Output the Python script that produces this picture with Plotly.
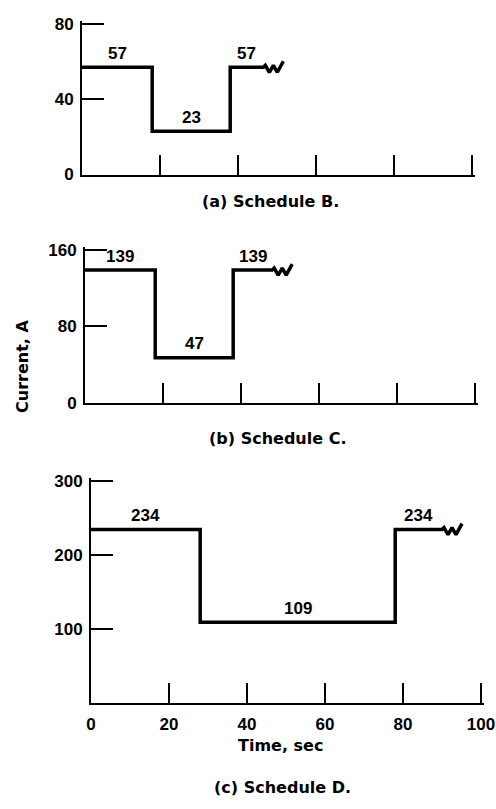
import plotly.graph_objects as go

# ---- data -------------------------------------------------------------
time_ticks = [0, 20, 40, 60, 80, 100]

sched_b_times = [0, 18, 38]
sched_b_amps = [57, 23, 57]
sched_b_end = 46.5

sched_c_times = [0, 18, 38]
sched_c_amps = [139, 47, 139]
sched_c_end = 48

sched_d_times = [0, 28, 78]
sched_d_amps = [234, 109, 234]
sched_d_end = 90

b_ticks = [0, 40, 80]
c_ticks = [0, 80, 160]
d_ticks = [100, 200, 300]

captions = ["(a) Schedule B.", "(b) Schedule C.", "(c) Schedule D."]

# ---- page geometry (pixels) -------------------------------------------
W, H = 496, 809
NUM_FONT = dict(family="Liberation Sans, Arial, sans-serif",
                size=17, color="black", weight="bold")
TXT_FONT = dict(family="DejaVu Sans, sans-serif", size=16, color="black",
                weight="bold")
PAD = 3  # px of slack so the end ticks are drawn

# plot boxes: (x0, x1, y_bottom, y_top) in page pixels for the 0..max span
boxes = [
    (82, 472, 174.5, 24),
    (85, 475, 402.7, 250),
    (91, 481, 703.0, 480.7),
]
caption_pos = [(270, 202), (277, 438), (282, 787)]

# break symbol drawn after the last segment: (dx, dy) in pixels, dy upward
BREAK_ZIG = [(2, 2), (6, -5), (10, 2), (14, -5), (20, 6)]

panels = [
    dict(times=sched_b_times, amps=sched_b_amps, end=sched_b_end, yticks=b_ticks),
    dict(times=sched_c_times, amps=sched_c_amps, end=sched_c_end, yticks=c_ticks),
    dict(times=sched_d_times, amps=sched_d_amps, end=sched_d_end, yticks=d_ticks),
]

fig = go.Figure()
annotations = []


def paper_text(text, px, py, angle=0):
    return dict(
        x=px / W, y=1 - py / H, xref="paper", yref="paper",
        xanchor="center", yanchor="middle", textangle=angle,
        text=text, showarrow=False, font=TXT_FONT,
    )


for i, (p, box) in enumerate(zip(panels, boxes)):
    n = "" if i == 0 else str(i + 1)
    x0, x1, yb, yt = box
    ymax = p["yticks"][-1]
    xs_per_px = 100 / (x1 - x0)
    ys_per_px = ymax / (yb - yt)

    # stepped current profile
    xs, ys = [], []
    times, amps = p["times"], p["amps"]
    for k, (t, a) in enumerate(zip(times, amps)):
        t_next = times[k + 1] if k + 1 < len(times) else p["end"]
        xs += [t, t_next]
        ys += [a, a]

    # zig-zag showing the profile continues
    last = amps[-1]
    for dx, dy in BREAK_ZIG:
        xs.append(p["end"] + dx * xs_per_px)
        ys.append(last + dy * ys_per_px)

    fig.add_trace(go.Scatter(
        x=xs, y=ys, mode="lines",
        line=dict(color="black", width=3.5),
        xaxis="x" + n, yaxis="y" + n, showlegend=False, hoverinfo="skip",
    ))

    # level labels above each segment
    for k, (t, a) in enumerate(zip(times, amps)):
        t_next = times[k + 1] if k + 1 < len(times) else p["end"]
        annotations.append(dict(
            x=(t + t_next) / 2, y=a, xref="x" + n, yref="y" + n,
            xanchor="center", yanchor="middle",
            text=str(a), showarrow=False, yshift=14, font=NUM_FONT,
        ))

    last_panel = i == len(panels) - 1
    fig.update_layout(**{
        "xaxis" + n: dict(
            domain=[x0 / W, (x1 + PAD) / W],
            range=[0, 100 + PAD * xs_per_px], anchor="y" + n,
            showline=True, linecolor="black", linewidth=2,
            ticks="inside", ticklen=20, tickwidth=2, tickcolor="black",
            tickvals=time_ticks, showticklabels=last_panel,
            ticklabelstandoff=5, ticklabeloverflow="allow", tickfont=NUM_FONT,
            showgrid=False, zeroline=False, fixedrange=True, automargin=False,
        ),
        "yaxis" + n: dict(
            domain=[1 - yb / H, 1 - (yt - PAD) / H],
            range=[0, ymax + PAD * ys_per_px], anchor="x" + n,
            showline=True, linecolor="black", linewidth=2,
            ticks="inside", ticklen=22, tickwidth=2, tickcolor="black",
            tickvals=p["yticks"], ticklabelstandoff=3,
            ticklabeloverflow="allow", tickfont=NUM_FONT,
            showgrid=False, zeroline=False, fixedrange=True, automargin=False,
        ),
    })

    cx, cy = caption_pos[i]
    annotations.append(paper_text(captions[i], cx, cy))

annotations.append(paper_text("Time, sec", 280, 745))
annotations.append(paper_text("Current, A", 22, 367, angle=-90))

fig.update_layout(
    template="none",
    width=W, height=H,
    margin=dict(l=0, r=0, t=0, b=0, autoexpand=False),
    paper_bgcolor="white", plot_bgcolor="white",
    annotations=annotations,
)

fig.write_html("out.html", config=dict(displayModeBar=False))
